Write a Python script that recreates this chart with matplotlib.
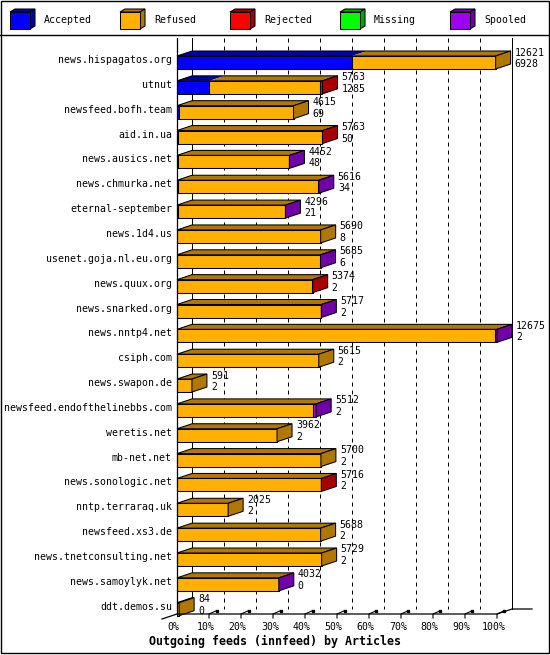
import numpy as np
import matplotlib
matplotlib.use("Agg")
from matplotlib import pyplot as plt
from matplotlib.patches import Polygon, Rectangle
from matplotlib.lines import Line2D

# --- data (articles per outgoing feed) ---
hosts = ["news.hispagatos.org", "utnut", "newsfeed.bofh.team", "aid.in.ua",
         "news.ausics.net", "news.chmurka.net", "eternal-september", "news.1d4.us",
         "usenet.goja.nl.eu.org", "news.quux.org", "news.snarked.org", "news.nntp4.net",
         "csiph.com", "news.swapon.de", "newsfeed.endofthelinebbs.com", "weretis.net",
         "mb-net.net", "news.sonologic.net", "nntp.terraraq.uk", "newsfeed.xs3.de",
         "news.tnetconsulting.net", "news.samoylyk.net", "ddt.demos.su"]
totals = [12621, 5763, 4615, 5763, 4452, 5616, 4296, 5690, 5685, 5374, 5717, 12675,
          5615, 591, 5512, 3962, 5700, 5716, 2025, 5688, 5729, 4032, 84]
accepted = [6928, 1285, 69, 50, 48, 34, 21, 8, 6, 2, 2, 2,
            2, 2, 2, 2, 2, 2, 2, 2, 2, 0, 0]
refused = [5693, 4368, 4546, 5683, 4394, 5567, 4265, 5682, 5671, 5360, 5707, 12593,
           5613, 589, 5390, 3960, 5698, 5702, 2023, 5686, 5727, 4022, 84]
rejected = [0, 110, 0, 30, 0, 0, 0, 0, 0, 12, 0, 0,
            0, 0, 0, 0, 0, 12, 0, 0, 0, 0, 0]
missing = [0] * 23
spooled = [0, 0, 0, 0, 10, 15, 10, 0, 8, 0, 8, 80,
           0, 0, 120, 0, 0, 0, 0, 0, 0, 10, 0]

series_names = ["Accepted", "Refused", "Rejected", "Missing", "Spooled"]
face_colors = ["#0000ff", "#ffb000", "#ff0000", "#00ff00", "#a000f0"]
dark_colors = ["#0000a8", "#b07800", "#a80000", "#00a800", "#7000a8"]
x_ticks = [10, 20, 30, 40, 50, 60, 70, 80, 90, 100]

plt.rcParams["font.family"] = "DejaVu Sans Mono"
W, H = 550, 655
fig = plt.figure(figsize=(W / 100, H / 100), dpi=100)

# pixel layout of the plot area
x0_px, x100_px = 177, 497
row0_px, row_step_px = 62.5, 24.85
top_px, floor_px = 38, 614

ax = fig.add_axes([x0_px / W, 1 - floor_px / H,
                   (x100_px - x0_px) / W, (floor_px - top_px) / H])
y_top = (top_px - row0_px) / row_step_px
y_floor = (floor_px - row0_px) / row_step_px
ax.set_xlim(0, 100)
ax.set_ylim(y_floor, y_top)
ax.axis("off")

px_x = 100 / (x100_px - x0_px)
px_y = 1 / row_step_px
dx, dy = 15 * px_x, 5 * px_y
half = 6.5 * px_y
lw = 0.75
fs = 7.1

# back wall and grid
for gx in [0] + x_ticks:
    style = "-" if gx in (0, 100) else (0, (4, 4))
    ax.add_line(Line2D([gx + dx, gx + dx], [y_top, y_floor - dy], color="black",
                       lw=0.72, ls=style, clip_on=False, zorder=1))
ax.add_line(Line2D([0, 0], [y_top, y_floor], color="black", lw=0.9, clip_on=False, zorder=5))

# floor
ax.add_line(Line2D([-dx, 0, 100, 100 + dx, 100 + dx + 20 * px_x],
                   [y_floor + dy, y_floor, y_floor, y_floor - dy, y_floor - dy],
                   color="black", lw=0.9, clip_on=False, zorder=5))
for t in x_ticks:
    ax.add_line(Line2D([t, t, t + dx * 0.45], [y_floor + 4 * px_y, y_floor, y_floor - 3 * px_y],
                       color="black", lw=0.8, clip_on=False, zorder=5))
    ax.plot(t + dx * 0.5, y_floor - 3 * px_y, marker="s", ms=1.8, color="black",
            clip_on=False, zorder=5)
for t in [0] + x_ticks:
    ax.text(t - 1.0, y_floor + 13 * px_y, f"{t}%", ha="center", va="center",
            fontsize=fs, clip_on=False)

# 3D bars
scale = 100 / max(totals)
segs = np.array([accepted, refused, rejected, missing, spooled], dtype=float) * scale
for i, host in enumerate(hosts):
    yt, yb = i - half, i + half
    left = 0.0
    last = 1
    for k in range(len(series_names)):
        w = segs[k, i]
        if w <= 0:
            continue
        ax.add_patch(Polygon([(left, yt), (left + w, yt), (left + w + dx, yt - dy), (left + dx, yt - dy)],
                             closed=True, fc=dark_colors[k], ec="none", zorder=3, clip_on=False))
        ax.add_patch(Polygon([(left, yt), (left + w, yt), (left + w, yb), (left, yb)],
                             closed=True, fc=face_colors[k], ec="black", lw=lw, zorder=4, clip_on=False))
        left += w
        last = k
    ax.add_patch(Polygon([(0, yt), (left, yt), (left + dx, yt - dy), (dx, yt - dy)],
                         closed=True, fill=False, ec="black", lw=lw, zorder=4, clip_on=False))
    ax.add_patch(Polygon([(left, yt), (left + dx, yt - dy), (left + dx, yb - dy), (left, yb)],
                         closed=True, fc=dark_colors[last], ec="black", lw=lw, zorder=4, clip_on=False))
    ax.text(-5 * px_x, i - 2.5 * px_y, host, ha="right", va="center", fontsize=fs, clip_on=False)
    ax.text(left + dx + 4 * px_x, i - 10 * px_y, str(totals[i]), ha="left", va="center",
            fontsize=fs, clip_on=False, zorder=6)
    ax.text(left + dx + 4 * px_x, i + 1.5 * px_y, str(accepted[i]), ha="left", va="center",
            fontsize=fs, clip_on=False, zorder=6)

fig.text(0.5, 1 - 641.5 / H, "Outgoing feeds (innfeed) by Articles", ha="center", va="center",
         fontsize=8.4, fontweight="bold")

# legend strip
lax = fig.add_axes([0, 1 - 35 / H, 1, 35 / H])
lax.set_xlim(0, W)
lax.set_ylim(35, 0)
lax.axis("off")
for k, name in enumerate(series_names):
    x = 10 + 110 * k
    lax.add_patch(Polygon([(x, 12), (x + 20, 12), (x + 25, 9), (x + 5, 9)],
                          closed=True, fc=dark_colors[k], ec="black", lw=lw))
    lax.add_patch(Polygon([(x + 20, 12), (x + 25, 9), (x + 25, 26), (x + 20, 29)],
                          closed=True, fc=dark_colors[k], ec="black", lw=lw))
    lax.add_patch(Rectangle((x, 12), 20, 17, fc=face_colors[k], ec="black", lw=lw))
    lax.text(x + 34, 20, name, ha="left", va="center", fontsize=fs)

# outer frame and separator
fig.add_artist(Rectangle((0.5 / W, 2.5 / H), 548 / W, 652 / H, transform=fig.transFigure,
                         fill=False, ec="black", lw=1))
fig.add_artist(Line2D([0, 549 / W], [1 - 35 / H, 1 - 35 / H], transform=fig.transFigure,
                      color="black", lw=1))

fig.savefig("out.png", dpi=100)
